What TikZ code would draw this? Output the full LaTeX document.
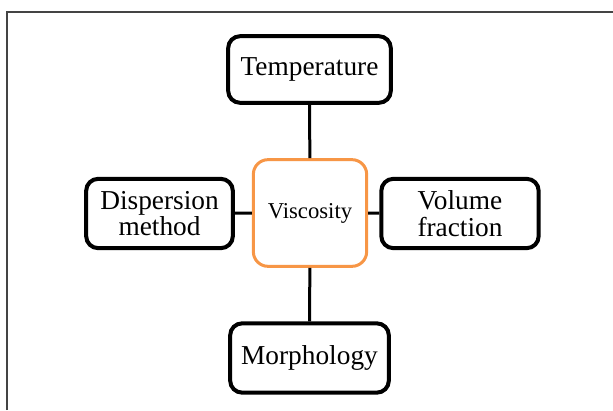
\documentclass[tikz,border=0pt]{standalone}
\usepackage{fontspec}
\setmainfont{Liberation Serif}
\definecolor{vorange}{HTML}{F79646}
\definecolor{framegray}{HTML}{444444}
\tikzset{
  factor/.style={draw=black, line width=3pt, rounded corners=9pt, fill=white,
    align=center, font=\fontsize{20.5}{20}\selectfont},
  target/.style={draw=vorange, line width=2.25pt, rounded corners=11pt, fill=white,
    minimum width=85pt, minimum height=80pt, font=\fontsize{17}{18}\selectfont},
  link/.style={line width=2.25pt, black}
}
\begin{document}
\begin{tikzpicture}[x=0.75pt,y=0.75pt]
                \useasboundingbox (0,0) rectangle (613,410);
                \draw[framegray, line width=1.5pt] (7,0) -- (7,398) -- (613,398);
                \node[target] (visc) at (310,197) {Viscosity};
                \node[factor, minimum width=122pt, minimum height=50pt] (temp) at (309.5,340.5) {Temperature};
                \node[factor, minimum width=110pt, minimum height=52pt] (disp) at (159.5,196.5) {Dispersion\\method};
                \node[factor, minimum width=118pt, minimum height=52pt] (vol) at (460,196.5) {Volume\\fraction};
                \node[factor, minimum width=119pt, minimum height=52pt] (morph) at (309.5,52) {Morphology};
                \draw[link] (temp) -- (visc);
                \draw[link] (visc) -- (morph);
                \draw[link] (disp) -- (visc);
                \draw[link] (visc) -- (vol);
            \end{tikzpicture}
\end{document}
